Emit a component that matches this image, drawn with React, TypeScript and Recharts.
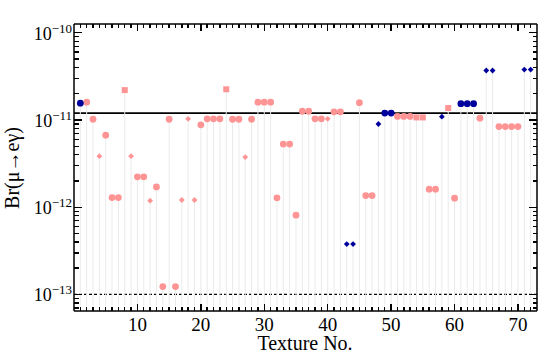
import { ReferenceLine, Scatter, ScatterChart, XAxis, YAxis } from "recharts";

// texture number, Br(mu -> e gamma) and marker code for each point
const TEXTURE_NO = [
  1, 2, 3, 4, 5, 6, 7, 8, 9, 10, 11, 12, 13, 14, 15, 16, 17, 18, 19, 20, 21, 22, 23, 24,
  25, 26, 27, 28, 29, 30, 31, 32, 33, 34, 35, 36, 37, 38, 39, 40, 41, 42, 43, 44, 45, 46, 47, 48,
  49, 50, 51, 52, 53, 54, 55, 56, 57, 58, 59, 60, 61, 62, 63, 64, 65, 66, 67, 68, 69, 70, 71, 72
];
const BR_VALUES = [
  1.56e-11, 1.6e-11, 1.02e-11, 3.85e-12, 6.7e-12, 1.29e-12, 1.29e-12, 2.2e-11, 3.85e-12, 2.23e-12,
  2.23e-12, 1.19e-12, 1.71e-12, 1.23e-13, 1.02e-11, 1.23e-13, 1.21e-12, 1.03e-11, 1.21e-12, 8.8e-12,
  1.03e-11, 1.03e-11, 1.03e-11, 2.25e-11, 1.02e-11, 1.02e-11, 3.76e-12, 1.02e-11, 1.6e-11, 1.6e-11,
  1.6e-11, 1.28e-12, 5.3e-12, 5.3e-12, 8.1e-13, 1.26e-11, 1.26e-11, 1.03e-11, 1.03e-11, 1.03e-11,
  1.24e-11, 1.24e-11, 3.78e-13, 3.78e-13, 1.58e-11, 1.36e-12, 1.36e-12, 9.0e-12, 1.2e-11, 1.2e-11,
  1.1e-11, 1.1e-11, 1.1e-11, 1.07e-11, 1.07e-11, 1.61e-12, 1.61e-12, 1.09e-11, 1.37e-11, 1.27e-12,
  1.54e-11, 1.54e-11, 1.54e-11, 1.05e-11, 3.69e-11, 3.69e-11, 8.4e-12, 8.4e-12, 8.4e-12, 8.4e-12,
  3.78e-11, 3.78e-11
];
// p = pink, b = blue; c = circle, s = square, d = diamond
const MARKERS = [
  "bc", "pc", "pc", "pd", "pc", "pc", "pc", "ps", "pd", "pc", "pc", "pd", "pc", "pc", "pc", "pc",
  "pd", "pd", "pd", "pc", "pc", "pc", "pc", "ps", "pc", "pc", "pd", "pc", "pc", "pc", "pc", "pc",
  "pc", "pc", "pc", "pc", "pc", "pc", "pc", "pd", "pc", "pc", "bd", "bd", "pc", "pc", "pc", "bd",
  "bc", "bc", "pc", "pc", "pc", "ps", "ps", "pc", "pc", "bd", "ps", "pc", "bc", "bc", "bc", "pc",
  "bd", "bd", "pc", "pc", "pc", "pc", "bd", "bd"
];

const X_TICKS = [
  1, 2, 3, 4, 5, 6, 7, 8, 9, 10, 11, 12, 13, 14, 15, 16, 17, 18, 19, 20, 21, 22, 23, 24,
  25, 26, 27, 28, 29, 30, 31, 32, 33, 34, 35, 36, 37, 38, 39, 40, 41, 42, 43, 44, 45, 46, 47, 48,
  49, 50, 51, 52, 53, 54, 55, 56, 57, 58, 59, 60, 61, 62, 63, 64, 65, 66, 67, 68, 69, 70, 71, 72
];
const Y_TICKS = [
  7e-14, 8e-14, 9e-14,
  1e-13, 2e-13, 3e-13, 4e-13, 5e-13, 6e-13, 7e-13, 8e-13, 9e-13,
  1e-12, 2e-12, 3e-12, 4e-12, 5e-12, 6e-12, 7e-12, 8e-12, 9e-12,
  1e-11, 2e-11, 3e-11, 4e-11, 5e-11, 6e-11, 7e-11, 8e-11, 9e-11,
  1e-10
];
const X_DOMAIN = [0, 73];
const Y_DOMAIN = [6.46e-14, 1.26e-10];
const SOLID_BOUND = 1.2e-11;
const DASHED_BOUND = 1e-13;

const PINK = "#ff9494";
const BLUE = "#00009c";
const FONT = "'Liberation Serif', 'DejaVu Serif', serif";

const W = 540;
const H = 363;
// plot area: left 74, right 537, top 24, bottom 311
const MARGIN = { top: 24, right: 3, bottom: 22, left: 14 };
const PLOT_W = 463;
const PLOT_H = 287;
const PLOT_BOTTOM = 311;

const points = TEXTURE_NO.map((x, i) => ({ x, y: BR_VALUES[i], m: MARKERS[i] }));
const pick = (code: string) => points.filter((p) => p.m === code);

const makeShape = (kind: string, color: string) => (props: any) => {
  const { cx, cy } = props;
  if (cx == null || cy == null) return null;
  return (
    <g>
      <line x1={cx} x2={cx} y1={cy} y2={PLOT_BOTTOM - 5} stroke="#ebebeb" strokeWidth={1} />
      {kind === "c" && <circle cx={cx} cy={cy} r={3.4} fill={color} />}
      {kind === "s" && <rect x={cx - 3} y={cy - 3} width={6} height={6} fill={color} />}
      {kind === "d" && (
        <polygon
          points={`${cx},${cy - 2.9} ${cx + 2.9},${cy} ${cx},${cy + 2.9} ${cx - 2.9},${cy}`}
          fill={color}
        />
      )}
    </g>
  );
};

const isDecade = (v: number) => {
  const e = Math.log10(v);
  return Math.abs(e - Math.round(e)) < 1e-6;
};

// bottom axis tick: draws the bottom and the matching top frame tick
const XTick = ({ x, y, payload }: any) => {
  const major = payload.value % 10 === 0;
  const len = major ? 7 : 4;
  const top = y - PLOT_H;
  return (
    <g>
      <path
        d={`M${x},${y}L${x},${y - len}M${x},${top}L${x},${top + len}`}
        stroke="#000"
        strokeWidth={1.4}
        shapeRendering="crispEdges"
        fill="none"
      />
      {major && (
        <text x={x} y={y + 20} textAnchor="middle" fontSize={19} fontFamily={FONT} fill="#000">
          {payload.value}
        </text>
      )}
    </g>
  );
};

// left axis tick: draws the left and the matching right frame tick
const YTick = ({ x, y, payload }: any) => {
  const major = isDecade(payload.value);
  const exp = Math.round(Math.log10(payload.value));
  const len = major ? 8 : 4.5;
  const right = x + PLOT_W;
  return (
    <g>
      <path
        d={`M${x},${y}L${x + len},${y}M${right},${y}L${right - len},${y}`}
        stroke="#000"
        strokeWidth={1.4}
        shapeRendering="crispEdges"
        fill="none"
      />
      {major && (
        <text x={x - 2} y={y + 7} textAnchor="end" fontFamily={FONT} fill="#000">
          <tspan fontSize={18}>10</tspan>
          <tspan fontSize={13} dy={-7}>{"\u2212" + Math.abs(exp)}</tspan>
        </text>
      )}
    </g>
  );
};

const axisLine = { stroke: "#000", strokeWidth: 1.5 };

export default function App() {
  return (
    <div style={{ position: "absolute", left: 0, top: 0, width: W, height: H, background: "#fff" }}>
      <ScatterChart width={W} height={H} margin={MARGIN}>
        <XAxis
          dataKey="x"
          type="number"
          domain={X_DOMAIN}
          ticks={X_TICKS}
          interval={0}
          height={30}
          tickSize={0}
          tickMargin={0}
          tickLine={false}
          axisLine={axisLine}
          tick={<XTick />}
        />
        <YAxis
          dataKey="y"
          type="number"
          scale="log"
          domain={Y_DOMAIN}
          allowDataOverflow
          ticks={Y_TICKS}
          interval={0}
          width={60}
          tickSize={0}
          tickMargin={0}
          tickLine={false}
          axisLine={axisLine}
          tick={<YTick />}
        />
        <ReferenceLine y={Y_DOMAIN[1]} stroke="#000" strokeWidth={1.5} ifOverflow="visible" />
        <ReferenceLine x={X_DOMAIN[1]} stroke="#000" strokeWidth={1.5} ifOverflow="visible" />
        <ReferenceLine y={SOLID_BOUND} stroke="#000" strokeWidth={1.6} />
        <ReferenceLine y={DASHED_BOUND} stroke="#000" strokeWidth={1.2} strokeDasharray="3 2" />
        <Scatter data={pick("pc")} shape={makeShape("c", PINK)} isAnimationActive={false} />
        <Scatter data={pick("ps")} shape={makeShape("s", PINK)} isAnimationActive={false} />
        <Scatter data={pick("pd")} shape={makeShape("d", PINK)} isAnimationActive={false} />
        <Scatter data={pick("bc")} shape={makeShape("c", BLUE)} isAnimationActive={false} />
        <Scatter data={pick("bd")} shape={makeShape("d", BLUE)} isAnimationActive={false} />
        <text x={305} y={350} textAnchor="middle" fontSize={20} fontFamily={FONT} fill="#000">
          Texture No.
        </text>
        <text
          x={19}
          y={168}
          textAnchor="middle"
          fontSize={20}
          fontFamily={FONT}
          fill="#000"
          transform="rotate(-90 19 168)"
        >
          Br(μ→eγ)
        </text>
      </ScatterChart>
    </div>
  );
}
